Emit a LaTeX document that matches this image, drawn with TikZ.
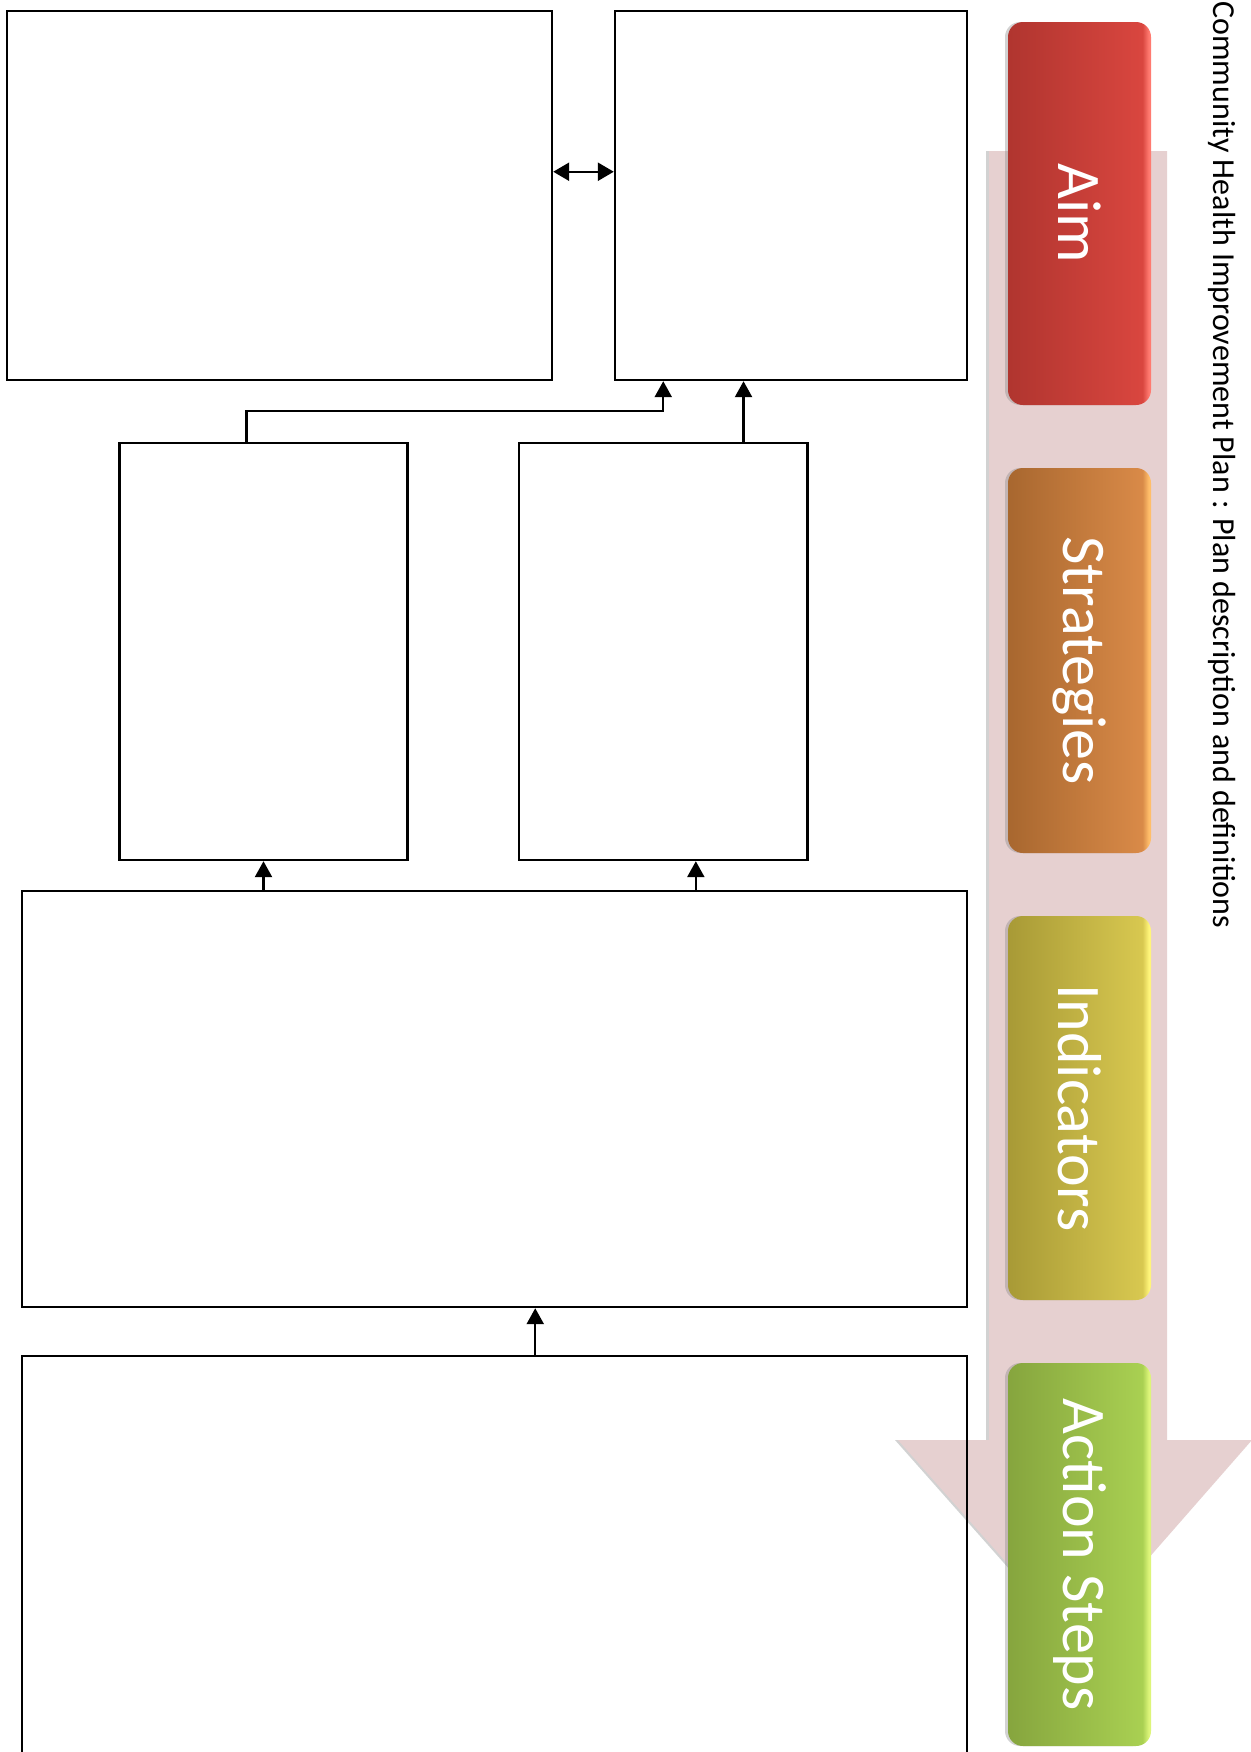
\documentclass[tikz,border=0pt]{standalone}
\usepackage{fontspec}
\setmainfont{Carlito}
\usetikzlibrary{arrows.meta,calc,fit,shadows}
\definecolor{pinkarrow}{HTML}{E6D0D0}
\definecolor{aimL}{HTML}{B0352F}
\definecolor{aimR}{HTML}{D9463F}
\definecolor{aimH}{HTML}{FF7A70}
\definecolor{strL}{HTML}{A8672F}
\definecolor{strR}{HTML}{D98A48}
\definecolor{strH}{HTML}{FFBE6A}
\definecolor{indL}{HTML}{A89A36}
\definecolor{indR}{HTML}{D8C850}
\definecolor{indH}{HTML}{FFF57A}
\definecolor{actL}{HTML}{86A53E}
\definecolor{actR}{HTML}{A9D052}
\definecolor{actH}{HTML}{DDF57A}
\pgfdeclarehorizontalshading{aimshade}{100bp}{color(0bp)=(aimL); color(25bp)=(aimL); color(72bp)=(aimR); color(74.2bp)=(aimH); color(100bp)=(aimH)}
\pgfdeclarehorizontalshading{strshade}{100bp}{color(0bp)=(strL); color(25bp)=(strL); color(72bp)=(strR); color(74.2bp)=(strH); color(100bp)=(strH)}
\pgfdeclarehorizontalshading{indshade}{100bp}{color(0bp)=(indL); color(25bp)=(indL); color(72bp)=(indR); color(74.2bp)=(indH); color(100bp)=(indH)}
\pgfdeclarehorizontalshading{actshade}{100bp}{color(0bp)=(actL); color(25bp)=(actL); color(72bp)=(actR); color(74.2bp)=(actH); color(100bp)=(actH)}
\tikzset{
  box/.style={draw, line width=1.2pt, inner sep=0pt},
  conn/.style={line width=1.2pt, -{Triangle[width=8.5pt,length=8pt]}},
  conntwo/.style={line width=1.2pt, {Triangle[width=9pt,length=8pt]}-{Triangle[width=9pt,length=8pt]}},
  btn/.style={rounded corners=7.5pt, inner sep=0pt, drop shadow={shadow xshift=-1.5pt, shadow yshift=0pt, opacity=0.35}},
  btntext/.style={rotate=-90, text=white, inner sep=0pt, font=\fontsize{31}{37}\selectfont},
}
\begin{document}
\begin{tikzpicture}[x=0.5pt, y=-0.5pt]
\useasboundingbox (0,0) rectangle (1251,1752);
\clip (0,0) rectangle (1251,1752);
\fill[white] (0,0) rectangle (1251,1752);
% big pink arrow with soft shadow
\fill[black!35, opacity=0.5] (986,151) -- (1164,151) -- (1164,1440) -- (1248,1440) -- (1073,1641) -- (895,1440) -- (986,1440) -- cycle;
\fill[pinkarrow] (989,151) -- (1167,151) -- (1167,1440) -- (1252,1440) -- (1076,1641) -- (898,1440) -- (989,1440) -- cycle;
% buttons
\node[btn, shading=aimshade, fit={(1008,22) (1151,405)}] (aim) {};
\node[btntext] (aimt) at (aim.center) {Aim};
\node[btn, shading=strshade, fit={(1008,468) (1151,853)}] (str) {};
\node[btntext] (strt) at (str.center) {Strategies};
\node[btn, shading=indshade, fit={(1008,916) (1151,1300)}] (ind) {};
\node[btntext] (indt) at (ind.center) {Indicators};
\node[btn, shading=actshade, fit={(1008,1363) (1151,1746)}] (act) {};
\node[btntext] (actt) at (act.center) {Action Steps};
% title
\node[rotate=-90, anchor=base west, inner sep=0pt, font=\fontsize{16}{19}\selectfont] (title) at (1213,1) {Community Health Improvement Plan : Plan description and definitions};
% boxes
\node[box, fit={(7,11) (552,380)}] (A) {};
\node[box, fit={(615,11) (967,380)}] (B) {};
\node[box, fit={(119.5,443) (407.5,860)}] (C) {};
\node[box, fit={(519,443) (807.5,860)}] (D) {};
\node[box, fit={(22,891) (967,1307)}] (E) {};
\node[box, fit={(22,1356) (967,1800)}] (F) {};
% connectors
\draw[conntwo] ($(A.north east)!0.436!(A.south east)$) -- ($(B.north west)!0.436!(B.south west)$);
\coordinate (cn) at ($(C.north west)!0.442!(C.north east)$);
\draw[conn] (cn) -- ++(0,-31) -| (D.north |- B.south);
\coordinate (dn) at ($(D.north west)!0.776!(D.north east)$);
\draw[conn] (dn) -- (dn |- B.south);
\draw[conn] (C.south |- E.north) -- (C.south);
\coordinate (ds) at ($(D.south west)!0.612!(D.south east)$);
\draw[conn] (ds |- E.north) -- (ds);
\coordinate (en) at ($(E.south west)!0.543!(E.south east)$);
\draw[conn] (en |- F.north) -- (en);
\end{tikzpicture}
\end{document}
